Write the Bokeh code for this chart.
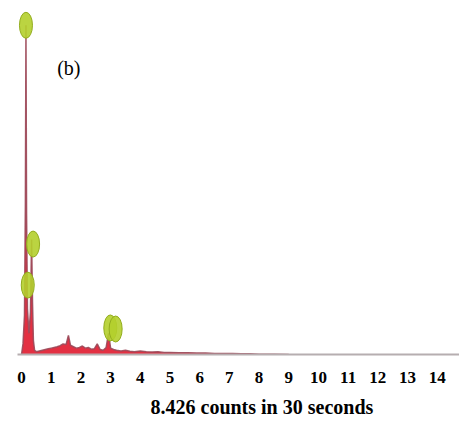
from bokeh.plotting import figure
from bokeh.models import Range1d, Label, FixedTicker, Title
from bokeh.embed import file_html
from bokeh.resources import INLINE

# spectrum (energy in keV, counts)
energy = [0.00, 0.05, 0.10, 0.13, 0.15, 0.17, 0.20, 0.25, 0.30, 0.34,
          0.37, 0.40, 0.44, 0.50, 0.60, 0.70, 0.80, 0.90, 1.00, 1.10,
          1.20, 1.30, 1.40, 1.50, 1.58, 1.65, 1.75, 1.85, 1.95, 2.05,
          2.15, 2.25, 2.35, 2.45, 2.55, 2.65, 2.75, 2.85, 2.93, 3.00,
          3.10, 3.20, 3.35, 3.50, 3.65, 3.80, 4.00, 4.20, 4.40, 4.60,
          4.80, 5.00, 5.30, 5.60, 5.90, 6.20, 6.50, 6.80, 7.10, 7.40,
          7.70, 8.00, 8.50, 9.00]
counts = [0, 30, 110, 420, 930, 400, 130, 60, 120, 325,
          150, 40, 12, 8, 10, 12, 14, 16, 18, 20,
          22, 25, 30, 28, 54, 26, 22, 18, 20, 24,
          18, 20, 15, 16, 30, 14, 12, 20, 60, 18,
          14, 12, 10, 12, 9, 8, 10, 8, 7, 8,
          6, 6, 5, 5, 4, 4, 3, 3, 3, 2,
          2, 1, 1, 0]

# element marker positions (energy, counts)
marker_e = [0.15, 0.39, 0.21, 2.99, 3.17]
marker_c = [930, 312, 196, 75, 72]

tick_values = list(range(0, 15))
tick_labels = [str(v) for v in tick_values]
caption = "8.426 counts in 30 seconds"
panel_tag = "(b)"

p = figure(width=459, height=425, output_backend="svg", toolbar_location=None,
           x_range=Range1d(-0.135, 14.75), y_range=Range1d(0, 1000),
           min_border_left=17, min_border_right=0, min_border_top=0,
           min_border_bottom=6)
p.outline_line_color = None
p.xgrid.visible = False
p.ygrid.visible = False
p.yaxis.visible = False
p.background_fill_color = "white"

p.varea(x=energy, y1=[0] * len(energy), y2=counts, fill_color="#e01a2e", fill_alpha=0.9)
p.line(x=energy, y=counts, line_color="#9a4858", line_width=1.5, line_alpha=0.9)

p.ellipse(x=marker_e, y=marker_c, width=13, height=26, width_units="screen",
          height_units="screen", fill_color="#b4cf2c", fill_alpha=0.9,
          line_color="#93ad1e", line_width=1)

ax = p.xaxis[0]
ax.ticker = FixedTicker(ticks=tick_values)
ax.major_label_overrides = {v: s for v, s in zip(tick_values, tick_labels)}
ax.axis_line_color = "#b6aeb0"
ax.axis_line_width = 2
ax.major_tick_line_color = None
ax.minor_tick_line_color = None
ax.major_label_standoff = 11
ax.major_label_text_font = "Liberation Serif"
ax.major_label_text_font_style = "bold"
ax.major_label_text_font_size = "17px"
ax.major_label_text_color = "black"

cap = Title(text=caption, align="left", offset=133, text_font="Liberation Serif",
            text_font_style="bold", text_font_size="20px", text_color="black",
            standoff=16)
p.add_layout(cap, "below")

p.add_layout(Label(x=1.2, y=810, text=panel_tag, text_align="left",
                   text_baseline="middle", text_font="Liberation Serif",
                   text_font_size="20px", text_color="black"))

open("out.html", "w").write(file_html(p, INLINE))
